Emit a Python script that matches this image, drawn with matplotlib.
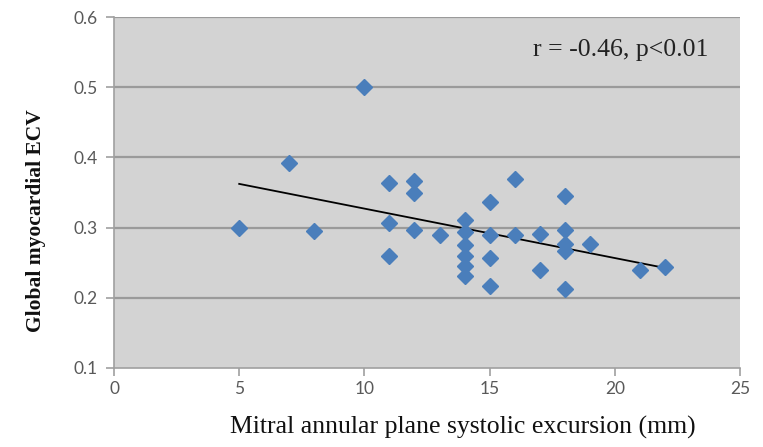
import numpy as np
import matplotlib
matplotlib.use("Agg")
import matplotlib.pyplot as plt

mapse = [5, 7, 8, 10, 11, 11, 11, 12, 12, 12, 13,
         14, 14, 14, 14, 14, 14, 15, 15, 15, 15,
         16, 16, 17, 17, 18, 18, 18, 18, 18, 19, 21, 22]
ecv = [0.300, 0.392, 0.295, 0.500, 0.363, 0.307, 0.259, 0.366, 0.350, 0.297, 0.290,
       0.311, 0.294, 0.275, 0.260, 0.245, 0.231, 0.337, 0.290, 0.257, 0.217,
       0.369, 0.290, 0.291, 0.239, 0.345, 0.296, 0.276, 0.266, 0.212, 0.276, 0.239, 0.244]
xticks = [0, 5, 10, 15, 20, 25]
yticks = [0.1, 0.2, 0.3, 0.4, 0.5, 0.6]
annotation = "r = -0.46, p<0.01"

W, H = 763, 447
fig = plt.figure(figsize=(W / 100, H / 100), dpi=100)
ax = fig.add_axes([114 / W, 1 - 368 / H, (740 - 114) / W, (368 - 17) / H])
ax.set_facecolor("#d3d3d3")

ax.set_xlim(0, 25)
ax.set_ylim(0.1, 0.6)
ax.set_xticks(xticks)
ax.set_yticks(yticks)
ax.set_xticklabels([str(t) for t in xticks])
ax.set_yticklabels([f"{t:.1f}" for t in yticks])

for y in yticks[1:]:
    ax.axhline(y, color="#9a9a9a", lw=1.6, zorder=1)

for s in ["top", "right"]:
    ax.spines[s].set_visible(False)
for s in ["left", "bottom"]:
    ax.spines[s].set_color("#a0a0a0")
    ax.spines[s].set_linewidth(1.2)

ax.tick_params(axis="both", direction="out", color="#a0a0a0", width=1.2, length=6,
               labelsize=12.5, labelcolor="#595959")
for lab in ax.get_xticklabels() + ax.get_yticklabels():
    lab.set_fontfamily("Lato")
ax.tick_params(axis="x", pad=3)
ax.tick_params(axis="y", pad=6)

x = np.array(mapse, dtype=float)
y = np.array(ecv)
slope, intercept = np.polyfit(x, y, 1)
xl = np.array([x.min(), x.max()])
ax.plot(xl, slope * xl + intercept, color="black", lw=1.3, zorder=2)

ax.plot(x, y, linestyle="none", marker="D", markersize=8.5, color="#4a7ebb",
        markeredgecolor="#4a7ebb", zorder=3)

ax.text(20.25, 0.553, annotation, ha="center", va="center", fontsize=18.5,
        family="Liberation Serif", color="#222222")

ax.set_xlabel("Mitral annular plane systolic excursion (mm)", family="Liberation Serif",
              fontsize=18.5, color="#111111")
ax.xaxis.set_label_coords(0.557, -0.168, transform=ax.transAxes)
ax.xaxis.label.set_va("center")
ax.set_ylabel("Global myocardial ECV", family="Liberation Serif", fontsize=15.5,
              fontweight="bold", color="#111111")
ax.yaxis.set_label_coords(-0.124, 0.419, transform=ax.transAxes)
ax.yaxis.label.set_va("center")

fig.savefig("out.png", dpi=100)
